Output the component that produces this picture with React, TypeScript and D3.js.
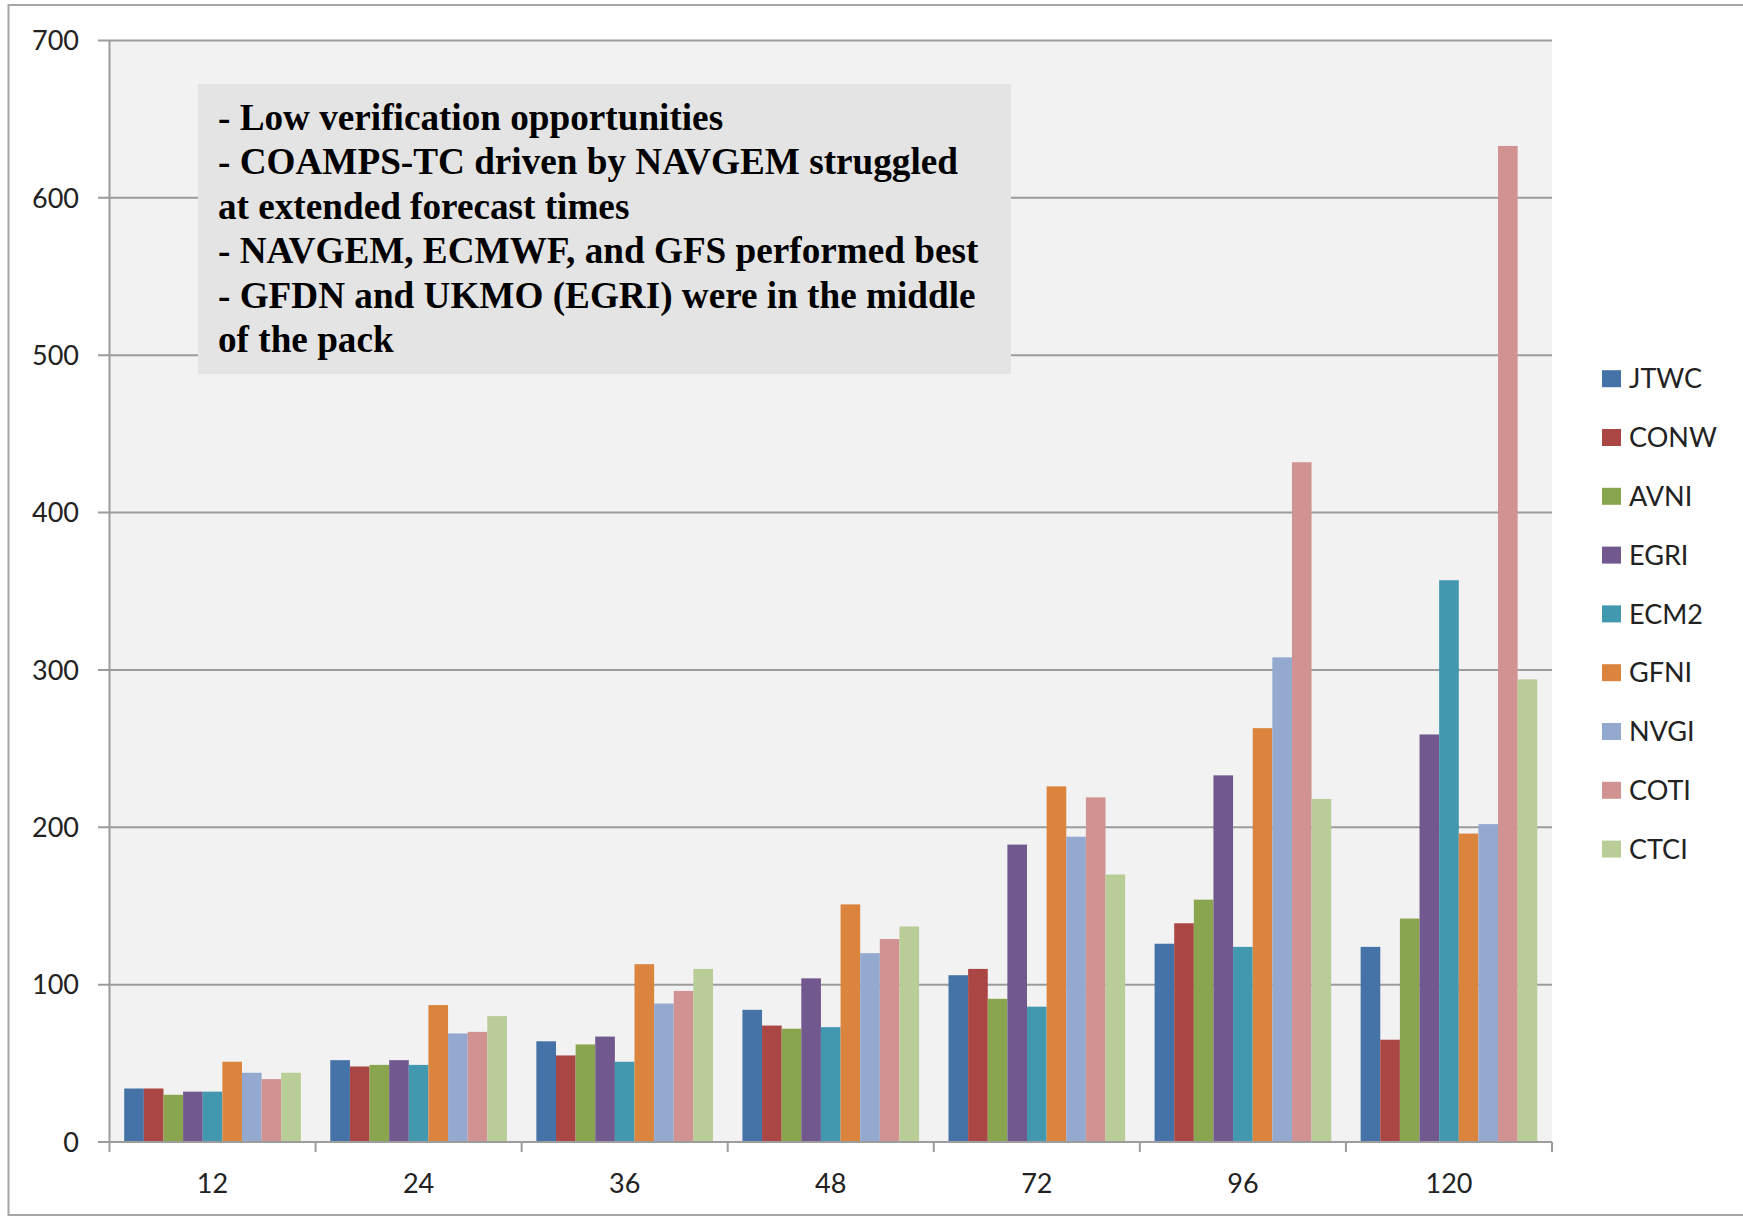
import React from "react";
import * as d3 from "d3";

const categories = ["12", "24", "36", "48", "72", "96", "120"];
const seriesNames = ["JTWC", "CONW", "AVNI", "EGRI", "ECM2", "GFNI", "NVGI", "COTI", "CTCI"];
const seriesColors = ["#4572A7", "#AA4643", "#89A54E", "#71588F", "#4198AF", "#DB843D", "#93A9CF", "#D19392", "#B9CD96"];
// values per category, in series order
const JTWC = [34, 52, 64, 84, 106, 126, 124];
const CONW = [34, 48, 55, 74, 110, 139, 65];
const AVNI = [30, 49, 62, 72, 91, 154, 142];
const EGRI = [32, 52, 67, 104, 189, 233, 259];
const ECM2 = [32, 49, 51, 73, 86, 124, 357];
const GFNI = [51, 87, 113, 151, 226, 263, 196];
const NVGI = [44, 69, 88, 120, 194, 308, 202];
const COTI = [40, 70, 96, 129, 219, 432, 633];
const CTCI = [44, 80, 110, 137, 170, 218, 294];
const seriesValues = [JTWC, CONW, AVNI, EGRI, ECM2, GFNI, NVGI, COTI, CTCI];
const yTicks = [0, 100, 200, 300, 400, 500, 600, 700];
const noteLines = [
  "- Low verification opportunities",
  "- COAMPS-TC driven by NAVGEM struggled",
  "at extended forecast times",
  "- NAVGEM, ECMWF, and GFS performed best",
  "- GFDN and UKMO (EGRI) were in the middle",
  "of the pack",
];

export default function App() {
  const W = 1743, H = 1217;
  const left = 109.5, right = 1552, top = 40.5, bottom = 1142;
  const x0 = d3.scaleBand().domain(categories).range([left, right]).paddingInner(0).paddingOuter(0);
  const bw = x0.bandwidth();
  const barW = bw / (9 + 1.5);
  const x1 = d3.scaleBand().domain(seriesNames).range([barW * 0.75, bw - barW * 0.75]).padding(0);
  const y = d3.scaleLinear().domain([0, 700]).range([bottom, top]);
  const axisFont = "Lato, 'Open Sans', sans-serif";
  const boundaries = d3.range(categories.length + 1).map((i) => left + i * bw);

  return (
    <div style={{ position: "absolute", left: 0, top: 0 }}>
      <svg width={W} height={H} style={{ display: "block", background: "#fff" }}>
        {/* chart frame */}
        <rect x={8.5} y={5} width={W + 20} height={1210} fill="#fff" stroke="#a6a6a6" strokeWidth={2} />
        {/* plot area */}
        <rect x={left} y={top} width={right - left} height={bottom - top} fill="#f2f2f2" />
        {/* gridlines */}
        {yTicks.map((t) => (
          <line key={"g" + t} x1={98} x2={right} y1={y(t)} y2={y(t)} stroke="#9c9c9c" strokeWidth={2} />
        ))}
        {/* y axis line */}
        <line x1={left} x2={left} y1={top} y2={bottom} stroke="#9c9c9c" strokeWidth={2} />
        {/* y tick labels */}
        {yTicks.map((t) => (
          <text key={"yl" + t} x={79} y={y(t)} dy="0.36em" textAnchor="end" fontFamily={axisFont} fontSize={27} fill="#222">
            {t}
          </text>
        ))}
        {/* bars */}
        {categories.map((c, ci) => (
          <g key={"c" + c}>
            {seriesNames.map((s, si) => {
              const v = seriesValues[si][ci];
              return (
                <rect
                  key={s}
                  x={(x0(c) as number) + (x1(s) as number)}
                  y={y(v)}
                  width={x1.bandwidth()}
                  height={y(0) - y(v)}
                  fill={seriesColors[si]}
                />
              );
            })}
          </g>
        ))}
        {/* x axis */}
        <line x1={left} x2={right} y1={bottom} y2={bottom} stroke="#9c9c9c" strokeWidth={2} />
        {boundaries.map((b, i) => (
          <line key={"xt" + i} x1={b} x2={b} y1={bottom} y2={bottom + 10} stroke="#9c9c9c" strokeWidth={2} />
        ))}
        {categories.map((c) => (
          <text key={"xl" + c} x={(x0(c) as number) + bw / 2} y={1193} textAnchor="middle" fontFamily={axisFont} fontSize={27} fill="#222">
            {c}
          </text>
        ))}
        {/* note box */}
        <rect x={198} y={84} width={813} height={290} fill="#e4e4e4" />
        {noteLines.map((l, i) => (
          <text key={"n" + i} x={218} y={130 + i * 44.4} fontFamily="'Liberation Serif', 'Times New Roman', serif" fontWeight="bold" fontSize={37.2} fill="#000">
            {l}
          </text>
        ))}
        {/* legend */}
        {seriesNames.map((s, i) => {
          const cy = 378.7 + i * 58.8;
          return (
            <g key={"lg" + s}>
              <rect x={1602} y={cy - 8.5} width={19} height={17} fill={seriesColors[i]} />
              <text x={1629} y={cy} dy="0.36em" fontFamily={axisFont} fontSize={27} fill="#222">
                {s}
              </text>
            </g>
          );
        })}
      </svg>
    </div>
  );
}
